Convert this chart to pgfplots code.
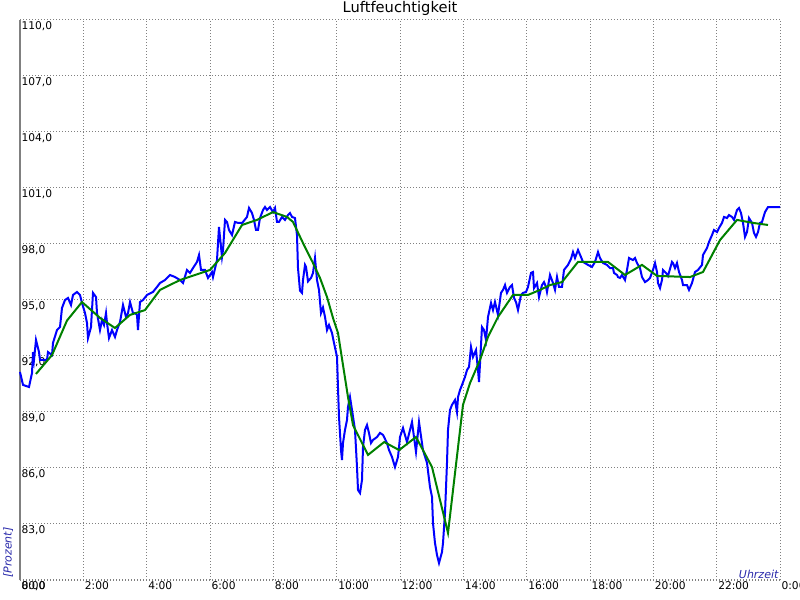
\documentclass[border=0pt]{standalone}
\usepackage{pgfplots}
\pgfplotsset{compat=1.18}
\usepackage{fontspec}
\setmainfont{DejaVu Sans}
\definecolor{lblue}{RGB}{0,0,255}
\definecolor{lgreen}{RGB}{0,128,0}
\definecolor{labblue}{RGB}{40,40,170}
\definecolor{gridgray}{RGB}{128,128,128}
\begin{document}
\fontsize{8.25}{10}\selectfont
\begin{tikzpicture}
\useasboundingbox (-15pt,-15pt) rectangle (585pt,435pt);
\begin{axis}[
  scale only axis, width=570pt, height=420pt,
  xmin=0, xmax=24, ymin=80, ymax=110,
  xtick={0,2,...,24},
  xticklabels={0:00,2:00,4:00,6:00,8:00,10:00,12:00,14:00,16:00,18:00,20:00,22:00,0:00},
  ytick={80,83,...,110},
  grid=major,
  major grid style={gridgray, line width=0.75pt, dash pattern=on 0.75pt off 1.5pt},
  major tick length=0pt,
  axis line style={draw=none},
  tick label style={font=\fontsize{8}{10}\selectfont, inner sep=1pt},
  xticklabel style={anchor=north west},
  yticklabel style={anchor=north west, /pgf/number format/.cd, fixed, fixed zerofill, precision=1, use comma, assume math mode=true},
  clip=false,
]
\draw[gridgray, line width=1.5pt] (rel axis cs:0,0) -- (rel axis cs:0,1);
\addplot[lblue, line width=1.5pt] coordinates {
(0,91.14) (0.095,90.45) (0.284,90.34) (0.379,91.09) (0.411,92.21) (0.442,91.79) (0.505,92.86) (0.6,92.21) (0.632,91.79) (0.853,91.79) (0.884,92.21) (1.011,92.05) (1.042,92.70) (1.168,93.39) (1.263,93.55) (1.326,94.57) (1.421,95.00) (1.516,95.11) (1.611,94.73) (1.674,95.27) (1.8,95.43) (1.895,95.27) (1.958,94.84) (2.053,94.30) (2.116,93.77) (2.147,92.96) (2.242,93.55) (2.305,95.38) (2.4,95.16) (2.432,94.30) (2.526,93.39) (2.589,93.93) (2.653,93.66) (2.716,94.30) (2.747,93.77) (2.811,92.96) (2.905,93.39) (3.0,93.02) (3.063,93.39) (3.158,93.82) (3.253,94.73) (3.347,94.09) (3.411,94.30) (3.474,94.89) (3.568,94.30) (3.632,94.30) (3.695,94.20) (3.726,93.39) (3.789,94.89) (3.884,95.00) (4.011,95.27) (4.2,95.43) (4.326,95.70) (4.421,95.91) (4.579,96.07) (4.737,96.34) (4.895,96.23) (5.053,96.07)
(5.147,95.91) (5.274,96.61) (5.368,96.45) (5.463,96.71) (5.589,97.04) (5.653,97.41) (5.716,96.61) (5.842,96.61) (5.937,96.18) (6.063,96.50) (6.095,96.23) (6.221,97.14) (6.253,98.05) (6.284,98.91) (6.379,97.30) (6.411,97.68) (6.474,99.29) (6.537,99.18) (6.6,98.75) (6.695,98.48) (6.789,99.18) (6.884,99.13) (7.011,99.13) (7.042,99.18) (7.168,99.45) (7.232,99.93) (7.326,99.66) (7.389,99.29) (7.453,98.75) (7.516,98.75) (7.579,99.39) (7.674,99.82) (7.737,99.98) (7.8,99.82) (7.895,99.98) (7.989,99.71) (8.053,99.93) (8.116,99.18) (8.179,99.18) (8.274,99.45) (8.368,99.29) (8.463,99.55) (8.526,99.66) (8.589,99.45) (8.684,99.39) (8.747,98.48) (8.779,96.71) (8.842,95.50) (8.905,95.38) (8.937,96.07) (9.0,96.88) (9.032,96.77) (9.095,96.00) (9.189,96.18) (9.253,96.45) (9.316,97.25) (9.379,96.07) (9.442,95.54) (9.505,94.30) (9.568,94.60) (9.632,94.09) (9.695,93.39) (9.758,93.66) (9.853,93.23) (9.916,92.70) (10.011,91.95) (10.042,90.29) (10.074,88.73) (10.137,86.96) (10.168,86.43) (10.2,87.34) (10.263,88.04) (10.326,88.57) (10.358,89.27) (10.421,89.80) (10.484,89.11) (10.579,88.04) (10.642,86.05) (10.674,84.82) (10.737,84.66) (10.8,85.36) (10.832,87.13) (10.895,88.04) (10.958,88.30) (11.021,87.88) (11.084,87.34) (11.147,87.50) (11.274,87.66) (11.368,87.88) (11.463,87.77) (11.589,87.34) (11.653,86.96) (11.747,86.59) (11.842,86.05) (11.937,86.59) (12.0,87.66) (12.095,88.14) (12.221,87.39) (12.379,88.46) (12.505,86.86) (12.6,88.46) (12.726,86.96) (12.853,86.27) (12.947,84.98) (13.011,84.45) (13.042,83.05) (13.105,81.98) (13.168,81.34) (13.232,80.91) (13.326,81.50) (13.358,81.98) (13.421,83.59) (13.484,86.27) (13.516,88.04) (13.579,89.11) (13.642,89.38) (13.737,89.64) (13.8,89.00) (13.832,89.80) (13.895,90.18) (13.958,90.45) (14.053,90.88) (14.116,91.25) (14.179,91.41) (14.242,92.48) (14.305,91.95) (14.4,92.32) (14.463,91.25) (14.495,90.61) (14.589,93.55) (14.653,93.39) (14.716,92.86) (14.779,94.09) (14.874,94.84) (14.937,94.46) (15.0,94.89) (15.095,94.20) (15.189,95.38) (15.253,95.54) (15.316,95.80) (15.379,95.38) (15.474,95.70) (15.537,95.80) (15.6,95.11) (15.663,94.89) (15.726,94.46) (15.821,95.27) (15.884,95.38) (15.979,95.43) (16.042,95.70) (16.137,96.45) (16.2,96.50) (16.232,95.64) (16.326,95.91) (16.389,95.16) (16.484,95.80) (16.547,95.96) (16.611,95.70) (16.642,95.43) (16.737,96.34) (16.832,95.91) (16.895,95.54) (16.958,96.23) (17.021,95.70) (17.116,95.70) (17.179,96.61) (17.305,96.88) (17.4,97.20) (17.463,97.57) (17.526,97.25) (17.621,97.68) (17.716,97.30) (17.779,97.04) (17.937,96.88) (18.063,96.77) (18.158,97.04) (18.253,97.57) (18.316,97.25) (18.411,96.98) (18.537,96.88) (18.632,96.71) (18.726,96.71) (18.758,96.45) (18.853,96.34) (18.884,96.23) (18.947,96.18) (19.011,96.34) (19.105,96.07) (19.168,96.61) (19.232,97.25) (19.358,97.14) (19.421,97.25) (19.484,96.98) (19.579,96.71) (19.642,96.23) (19.737,95.96) (19.832,96.07) (19.895,96.18) (19.989,96.61) (20.053,96.98) (20.116,96.50) (20.147,95.91) (20.211,95.64) (20.274,96.07) (20.305,96.61) (20.4,96.45) (20.463,96.29) (20.589,97.04) (20.621,96.98) (20.684,96.71) (20.747,96.98) (20.811,96.50) (20.905,96.07) (20.937,95.80) (21.063,95.80) (21.126,95.54) (21.221,95.91) (21.316,96.50) (21.411,96.61) (21.537,96.88) (21.568,97.41) (21.695,97.79) (21.758,98.11) (21.853,98.48) (21.916,98.75) (22.011,98.64) (22.074,98.86) (22.168,99.13) (22.232,99.45) (22.326,99.39) (22.389,99.55) (22.484,99.45) (22.547,99.29) (22.642,99.82) (22.705,99.93) (22.768,99.66) (22.832,99.13) (22.895,98.38) (22.958,98.64) (23.021,99.39) (23.116,99.13) (23.179,98.59) (23.242,98.38) (23.305,98.64) (23.368,99.13) (23.432,99.18) (23.526,99.71) (23.621,99.98) (24.0,99.98)
};
\addplot[lgreen, line width=1.5pt] coordinates {
(0.505,91.04) (1.011,92.05) (1.484,93.90) (1.958,94.89) (2.526,94.04) (3.0,93.50) (3.474,94.20) (3.947,94.46) (4.421,95.54) (5.053,96.07) (6.0,96.61) (6.474,97.52) (7.011,99.02) (7.484,99.29) (7.989,99.71) (8.432,99.45) (8.621,99.18) (8.937,98.05) (9.253,96.98) (9.474,96.18) (9.695,95.16) (9.884,94.04) (10.042,93.23) (10.358,89.80) (10.516,88.30) (10.989,86.70) (11.5,87.39) (11.974,86.96) (12.505,87.66) (13.011,86.05) (13.516,82.52) (13.989,89.38) (14.211,90.55) (14.526,91.79) (14.779,93.02) (15.095,94.09) (15.568,95.27) (16.042,95.27) (16.421,95.54) (16.737,95.80) (17.116,95.96) (17.621,97.04) (18.568,97.04) (19.105,96.34) (19.642,96.88) (20.116,96.29) (21.158,96.23) (21.568,96.50) (22.105,98.21) (22.642,99.29) (23.147,99.13) (23.621,99.02)
};
\node[anchor=base, inner sep=0pt, font=\fontsize{11}{12}\selectfont] at ([yshift=5.25pt]rel axis cs:0.5,1) {Luftfeuchtigkeit};
\node[anchor=south east, inner sep=1pt, text=labblue, font=\itshape\fontsize{8.25}{10}\selectfont] at (rel axis cs:1,0) {Uhrzeit};
\node[rotate=90, anchor=south west, inner sep=0pt, text=labblue, font=\itshape\fontsize{8.25}{10}\selectfont] at ([xshift=-5pt,yshift=1.5pt]rel axis cs:0,0) {[Prozent]};
\end{axis}
\end{tikzpicture}
\end{document}
